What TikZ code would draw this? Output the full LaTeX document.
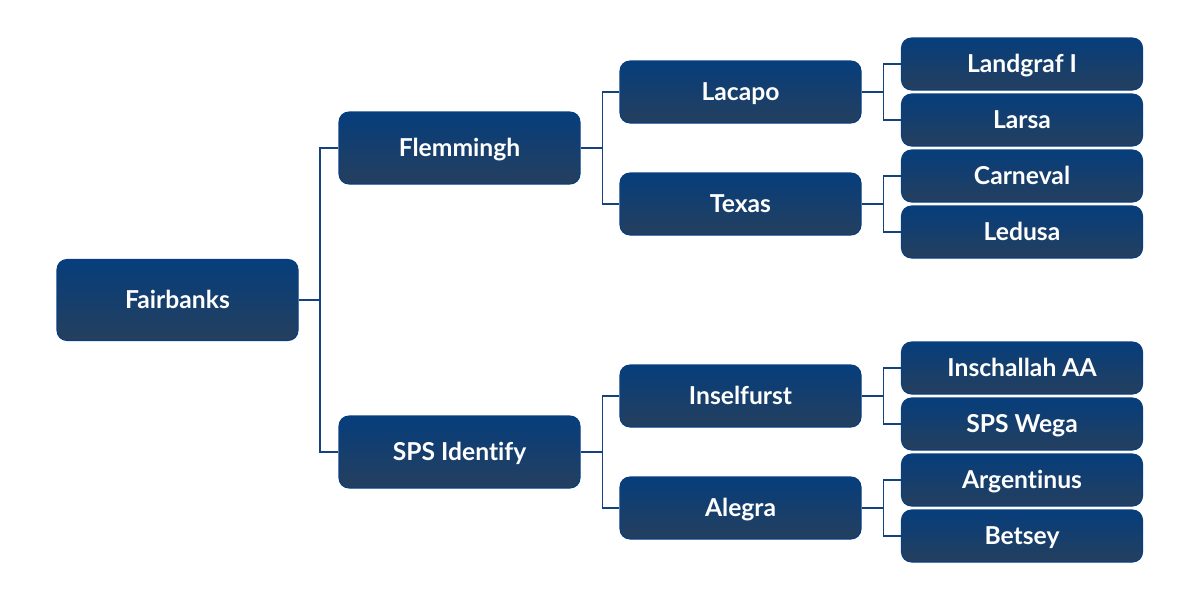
\documentclass[tikz,border=0pt]{standalone}
\usepackage{fontspec}
\setmainfont{Lato}[Ligatures=NoCommon]
\usetikzlibrary{positioning}
\definecolor{boxtop}{RGB}{6,62,124}
\definecolor{boxbot}{RGB}{37,63,94}
\definecolor{boxline}{RGB}{10,62,128}
\definecolor{treeline}{RGB}{20,66,128}

\begin{document}
\begin{tikzpicture}[x=0.75pt,y=0.75pt,yscale=-1,xscale=1,
  box/.style={draw=boxline,line width=0.8pt,rounded corners=7.5pt,top color=boxtop,bottom color=boxbot,
    text=white,font=\fontsize{18.5}{20}\selectfont\bfseries,minimum width=180.75pt,inner sep=0pt,
    text height=13pt,text depth=0pt},
  rootbox/.style={box,minimum height=60.75pt},
  midbox/.style={box,minimum height=54pt},
  subbox/.style={box,minimum height=46.5pt},
  leafbox/.style={box,minimum height=39pt},
  link/.style={draw=treeline,line width=1.1pt}]
\useasboundingbox (0,0) rectangle (1200,600);

% Boxes
\node[rootbox] (fairbanks) at (177.5,300) {Fairbanks};
\node[midbox] (flemmingh) at (459.5,148) {Flemmingh};
\node[midbox] (spsidentify) at (459.5,452) {SPS Identify};
\node[subbox] (lacapo) at (740.5,92) {Lacapo};
\node[subbox] (texas) at (740.5,204) {Texas};
\node[subbox] (inselfurst) at (740.5,396) {Inselfurst};
\node[subbox] (alegra) at (740.5,508) {Alegra};
\node[leafbox] (landgraf) at (1022,64) {Landgraf I};
\node[leafbox] (larsa) at (1022,120) {Larsa};
\node[leafbox] (carneval) at (1022,176) {Carneval};
\node[leafbox] (ledusa) at (1022,232) {Ledusa};
\node[leafbox] (inschallah) at (1022,368) {Inschallah AA};
\node[leafbox] (spswega) at (1022,424) {SPS Wega};
\node[leafbox] (argentinus) at (1022,480) {Argentinus};
\node[leafbox] (betsey) at (1022,536) {Betsey};

% Connectors
\coordinate (j0) at (320,300);
\draw[link] (fairbanks.east) -- (j0);
\draw[link] (flemmingh.west) -| (j0) |- (spsidentify.west);
\foreach \p/\a/\b in {flemmingh/lacapo/texas,spsidentify/inselfurst/alegra,
  lacapo/landgraf/larsa,texas/carneval/ledusa,inselfurst/inschallah/spswega,alegra/argentinus/betsey}{
  \coordinate (j\p) at ([xshift=16.5pt]\p.east);
  \draw[link] (\p.east) -- (j\p);
  \draw[link] (\a.west) -| (j\p) |- (\b.west);
}

\end{tikzpicture}
\end{document}
